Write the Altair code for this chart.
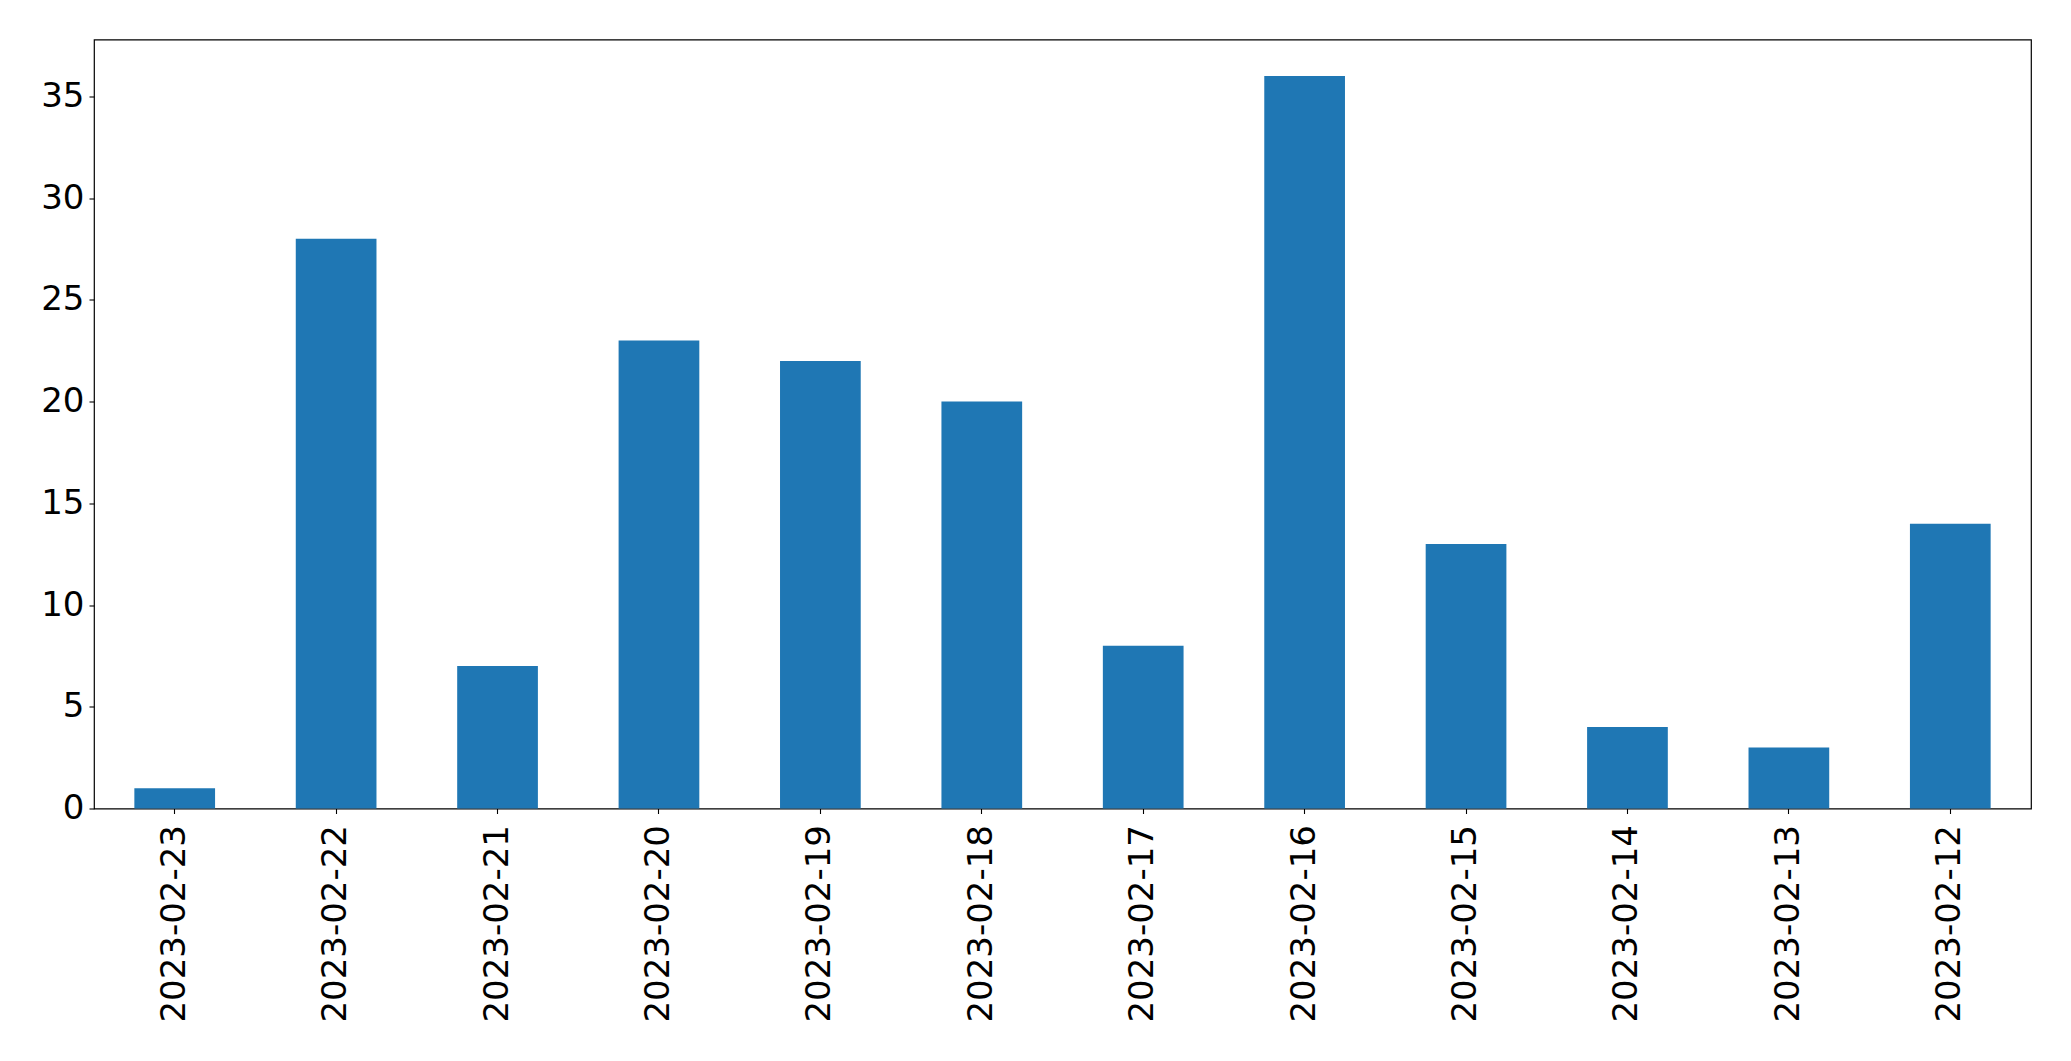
import altair as alt
import pandas as pd

dates = ["2023-02-23", "2023-02-22", "2023-02-21", "2023-02-20", "2023-02-19", "2023-02-18",
         "2023-02-17", "2023-02-16", "2023-02-15", "2023-02-14", "2023-02-13", "2023-02-12"]
counts = [1, 28, 7, 23, 22, 20, 8, 36, 13, 4, 3, 14]
y_ticks = [0, 5, 10, 15, 20, 25, 30, 35]

df = pd.DataFrame({"date": dates, "count": counts})

FONT = "DejaVu Sans"

chart = alt.Chart(df).mark_bar(color="#1f77b4").encode(
    x=alt.X("date:N", sort=dates, title=None,
            scale=alt.Scale(paddingInner=0.5, paddingOuter=0.25),
            axis=alt.Axis(labelAngle=-90, labelAlign="right", labelBaseline="middle",
                          labelFont=FONT, labelFontSize=34, labelColor="black",
                          labelLimit=0, labelOverlap=False,
                          tickColor="black", tickSize=5, tickWidth=1.1,
                          labelPadding=11, domain=False, grid=False)),
    y=alt.Y("count:Q", title=None,
            scale=alt.Scale(domain=[0, 37.8], nice=False, zero=True),
            axis=alt.Axis(values=y_ticks, labelFont=FONT, labelFontSize=34, labelColor="black",
                          labelOverlap=False,
                          tickColor="black", tickSize=5, tickWidth=1.1,
                          labelPadding=5, domain=False, grid=False)),
).properties(
    width=1937,
    height=769,
    background="white",
    autosize=alt.AutoSizeParams(type="none"),
    padding={"left": 86, "top": 31.5, "right": 20, "bottom": 225},
).configure_view(
    stroke="black",
    strokeWidth=1.2,
)

chart.save("out.html", embed_options={"renderer": "svg", "actions": False})
